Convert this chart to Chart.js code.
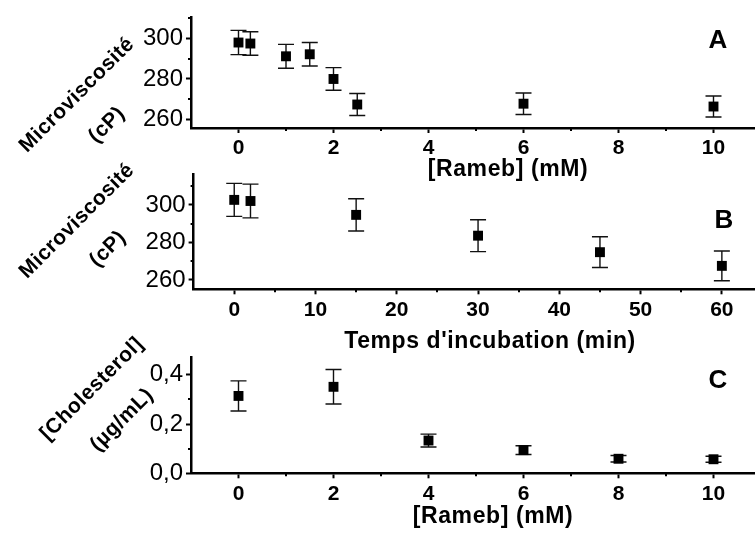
<!DOCTYPE html>
<html>
<head>
<meta charset="utf-8">
<script src="https://cdn.jsdelivr.net/npm/chart.js@4"></script>
<style>
  html, body { margin: 0; padding: 0; background: #fff; overflow: hidden; }
  #wrap { position: relative; width: 755px; height: 533px; overflow: hidden; }
  #wrap canvas { position: absolute; left: 0; top: 0; }
</style>
</head>
<body>
<div id="wrap">
  <canvas id="chartA" width="770" height="533"></canvas>
  <canvas id="chartB" width="770" height="533"></canvas>
  <canvas id="chartC" width="770" height="533"></canvas>
</div>
<script>
// Panel A : microviscosity vs Rameb concentration
let ramebA = [0, 0.25, 1, 1.5, 2, 2.5, 6, 10];
let viscA = [298, 297.5, 291.2, 292.2, 280, 267.4, 267.8, 266.4];
let errA = [6, 5.8, 5.9, 5.8, 5.6, 5.4, 5.3, 5.2];

// Panel B : microviscosity vs incubation time
let timeB = [0, 2, 15, 30, 45, 60];
let viscB = [302.7, 302.1, 294.7, 283.6, 274.8, 267.5];
let errB = [8.8, 9, 8.6, 8.5, 8.2, 7.9];

// Panel C : cholesterol vs Rameb concentration
let ramebC = [0, 2, 4, 6, 8, 10];
let cholC = [0.314, 0.351, 0.133, 0.094, 0.059, 0.057];
let errC = [0.061, 0.07, 0.026, 0.018, 0.013, 0.012];

// tick values
let ramebTicks = [0, 2, 4, 6, 8, 10];
let ramebMinor = [1, 3, 5, 7, 9];
let timeTicks = [0, 10, 20, 30, 40, 50, 60];
let timeMinor = [5, 15, 25, 35, 45, 55];
let viscTicks = [260, 280, 300];
let viscMinor = [270, 290, 310];
let cholTicks = [0, 0.2, 0.4];
let cholMinor = [0.1, 0.3];

const FONT = '"Liberation Sans", Arial, sans-serif';

// error bars, minor ticks and the free text around each panel
const panelPlugin = {
  id: 'panel',
  beforeDatasetsDraw(chart, args, opts) {
    const ctx = chart.ctx;
    const xs = chart.scales.x, ys = chart.scales.y;
    ctx.save();
    ctx.strokeStyle = '#111';
    ctx.lineWidth = 1.4;
    chart.data.datasets[0].data.forEach((p, i) => {
      const px = xs.getPixelForValue(p.x);
      const t = ys.getPixelForValue(p.y + opts.errors[i]);
      const b = ys.getPixelForValue(p.y - opts.errors[i]);
      ctx.beginPath();
      ctx.moveTo(px, t); ctx.lineTo(px, b);
      ctx.moveTo(px - 8, t); ctx.lineTo(px + 8, t);
      ctx.moveTo(px - 8, b); ctx.lineTo(px + 8, b);
      ctx.stroke();
    });
    ctx.restore();
  },
  afterDraw(chart, args, opts) {
    const ctx = chart.ctx;
    const xs = chart.scales.x, ys = chart.scales.y;
    const area = chart.chartArea;
    ctx.save();
    ctx.strokeStyle = '#000';
    ctx.lineWidth = 2;
    ctx.beginPath();
    opts.xMinor.forEach(v => {
      const px = Math.round(xs.getPixelForValue(v));
      ctx.moveTo(px, area.bottom); ctx.lineTo(px, area.bottom + 3);
    });
    opts.yMinor.forEach(v => {
      const py = Math.round(ys.getPixelForValue(v));
      ctx.moveTo(area.left, py); ctx.lineTo(area.left - 3, py);
    });
    ctx.stroke();

    ctx.fillStyle = '#000';
    ctx.textAlign = 'center';
    ctx.textBaseline = 'middle';
    ctx.letterSpacing = '0.5px';
    ctx.font = 'bold 21px ' + FONT;
    opts.yTitle.forEach(l => {
      ctx.save();
      ctx.translate(l.x, l.y);
      ctx.rotate(-Math.PI / 4);
      ctx.fillText(l.text, 0, 0);
      ctx.restore();
    });
    ctx.letterSpacing = '0.6px';
    ctx.font = 'bold 23px ' + FONT;
    ctx.fillText(opts.xTitle.text, opts.xTitle.x, opts.xTitle.y);
    ctx.letterSpacing = '0px';
    ctx.font = 'bold 26px ' + FONT;
    ctx.fillText(opts.letter.text, opts.letter.x, opts.letter.y);
    ctx.restore();
  }
};

function makePanel(id, cfg) {
  return new Chart(document.getElementById(id), {
    type: 'scatter',
    data: {
      datasets: [{
        data: cfg.xs.map((x, i) => ({ x: x, y: cfg.ys[i] })),
        pointStyle: 'rect',
        pointRadius: 7,
        pointHoverRadius: 7,
        backgroundColor: '#000',
        borderWidth: 0,
        clip: false
      }]
    },
    options: {
      responsive: false,
      animation: false,
      devicePixelRatio: 1,
      layout: { padding: cfg.padding },
      plugins: {
        legend: { display: false },
        tooltip: { enabled: false },
        panel: cfg.panel
      },
      scales: {
        x: {
          type: 'linear',
          min: cfg.xMin, max: cfg.xMax,
          afterFit: s => { s.height = 40; },
          afterBuildTicks: s => { s.ticks = cfg.xTicks.map(v => ({ value: v })); },
          ticks: { color: '#000', font: { family: FONT, size: 21, weight: 'bold' }, padding: 3, maxRotation: 0 },
          grid: { drawOnChartArea: false, tickLength: 5, tickWidth: 2, tickColor: '#000' },
          border: { color: '#000', width: 2.5 }
        },
        y: {
          type: 'linear',
          min: cfg.yMin, max: cfg.yMax,
          afterFit: s => { s.width = cfg.yw; },
          afterBuildTicks: s => { s.ticks = cfg.yTicks.map(v => ({ value: v })); },
          ticks: { color: '#000', font: { family: FONT, size: 24 }, padding: 3, callback: cfg.yFmt },
          grid: { drawOnChartArea: false, tickLength: 5, tickWidth: 2, tickColor: '#000' },
          border: { color: '#000', width: 2.5 }
        }
      }
    },
    plugins: [panelPlugin]
  });
}

makePanel('chartA', {
  xs: ramebA, ys: viscA,
  xMin: -1, xMax: 11, yMin: 255.8, yMax: 310.4,
  xTicks: ramebTicks, yTicks: viscTicks,
  yw: 191,
  padding: { left: 0, right: 9, top: 12, bottom: 365 },
  yFmt: v => String(v),
  panel: {
    errors: errA, xMinor: ramebMinor, yMinor: viscMinor,
    yTitle: [{ text: 'Microviscosité', x: 77, y: 95 }, { text: '(cP)', x: 107, y: 125 }],
    xTitle: { text: '[Rameb] (mM)', x: 508, y: 170 },
    letter: { text: 'A', x: 718, y: 41 }
  }
});

makePanel('chartB', {
  xs: timeB, ys: viscB,
  xMin: -5, xMax: 65, yMin: 255, yMax: 316.5,
  xTicks: timeTicks, yTicks: viscTicks,
  yw: 193.6,
  padding: { left: 0, right: 7.5, top: 174, bottom: 203.7 },
  yFmt: v => String(v),
  panel: {
    errors: errB, xMinor: timeMinor, yMinor: viscMinor,
    yTitle: [{ text: 'Microviscosité', x: 77, y: 221 }, { text: '(cP)', x: 108, y: 249 }],
    xTitle: { text: "Temps d'incubation (min)", x: 490, y: 342 },
    letter: { text: 'B', x: 724, y: 221 }
  }
});

makePanel('chartC', {
  xs: ramebC, ys: cholC,
  xMin: -1, xMax: 11, yMin: 0, yMax: 0.472,
  xTicks: ramebTicks, yTicks: cholTicks,
  yw: 191,
  padding: { left: 0, right: 9, top: 357, bottom: 19.7 },
  yFmt: v => v.toFixed(1).replace('.', ','),
  panel: {
    errors: errC, xMinor: ramebMinor, yMinor: cholMinor,
    yTitle: [{ text: '[Cholesterol]', x: 92, y: 389 }, { text: '(µg/mL)', x: 122, y: 420 }],
    xTitle: { text: '[Rameb] (mM)', x: 493, y: 517 },
    letter: { text: 'C', x: 718, y: 381 }
  }
});
</script>
</body>
</html>
